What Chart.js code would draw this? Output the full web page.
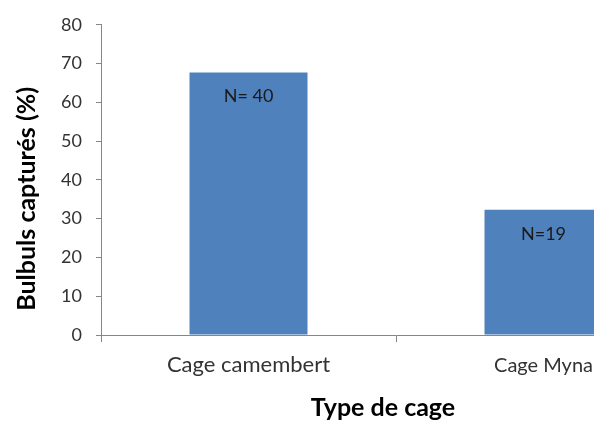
<!DOCTYPE html>
<html>
<head>
<meta charset="utf-8">
<script src="https://cdn.jsdelivr.net/npm/chart.js@4"></script>
<style>
    html, body { margin: 0; padding: 0; background: #ffffff; overflow: hidden; }
    #wrap { width: 700px; height: 425px; }
</style>
</head>
<body>
<div id="wrap"><canvas id="canvas1" width="700" height="425"></canvas></div>
<script>
// Données du graphique
var categories = ["Cage camembert", "Cage Myna"];
var pourcentages = [67.7, 32.3];
var effectifs = ["N= 40", "N=19"];
var yTicks = [0, 10, 20, 30, 40, 50, 60, 70, 80];
var titreX = "Type de cage";
var titreY = "Bulbuls capturés (%)";

var police = "Lato, 'Open Sans', sans-serif";
var gris = "#868686";

// Texte "N=" dans le haut de chaque barre + titres des axes
var etiquettesPlugin = {
    id: 'etiquettes',
    afterDatasetsDraw: function (chart) {
        var ctx = chart.ctx;
        var meta = chart.getDatasetMeta(0);
        ctx.save();
        ctx.font = "18px " + police;
        ctx.fillStyle = "#1a1a1a";
        ctx.textAlign = "center";
        ctx.textBaseline = "middle";
        meta.data.forEach(function (bar, i) {
            ctx.fillText(effectifs[i], bar.x, bar.y + 24);
        });
        ctx.restore();
    },
    afterDraw: function (chart) {
        var ctx = chart.ctx;
        ctx.save();
        ctx.font = "bold 25px " + police;
        ctx.fillStyle = "#000000";
        ctx.textAlign = "center";
        ctx.textBaseline = "middle";
        // titre de l'axe x, un peu à gauche du centre comme dans l'original
        ctx.fillText(titreX, chart.chartArea.left + 282, chart.chartArea.bottom + 73);
        // titre de l'axe y, vertical
        ctx.translate(27, chart.chartArea.top + 174);
        ctx.rotate(-Math.PI / 2);
        ctx.fillText(titreY, 0, 0);
        ctx.restore();
    }
};

var ctx1 = document.getElementById('canvas1').getContext('2d');
var myChart1 = new Chart(ctx1, {
    type: 'bar',
    data: {
        labels: categories,
        datasets: [{
            data: pourcentages,
            backgroundColor: "#4f81bd",
            borderWidth: 0,
            categoryPercentage: 0.4,
            barPercentage: 1.0
        }]
    },
    options: {
        responsive: false,
        animation: false,
        layout: { padding: { top: 23, right: 9, left: 0, bottom: 0 } },
        plugins: {
            legend: { display: false },
            tooltip: { enabled: false }
        },
        scales: {
            x: {
                grid: {
                    offset: true,
                    drawOnChartArea: false,
                    drawTicks: true,
                    tickLength: 7,
                    color: gris
                },
                border: { color: gris },
                ticks: {
                    color: "#333333",
                    padding: 10,
                    // la 2e étiquette est au bord de l'image, un peu plus petite pour rester visible
                    font: function (c) {
                        if (c.index === 1) {
                            return { family: police, size: 20, lineHeight: 1.32 };
                        }
                        return { family: police, size: 22, lineHeight: 1.2 };
                    }
                },
                afterFit: function (scale) { scale.height = 90; }
            },
            y: {
                min: 0,
                max: 80,
                afterBuildTicks: function (scale) {
                    scale.ticks = yTicks.map(function (v) { return { value: v }; });
                },
                grid: {
                    drawOnChartArea: false,
                    drawTicks: true,
                    tickLength: 5,
                    color: gris
                },
                border: { color: gris },
                ticks: {
                    color: "#333333",
                    padding: 14,
                    font: { family: police, size: 18 }
                },
                afterFit: function (scale) { scale.width = 101; }
            }
        }
    },
    plugins: [etiquettesPlugin]
});
</script>
</body>
</html>
